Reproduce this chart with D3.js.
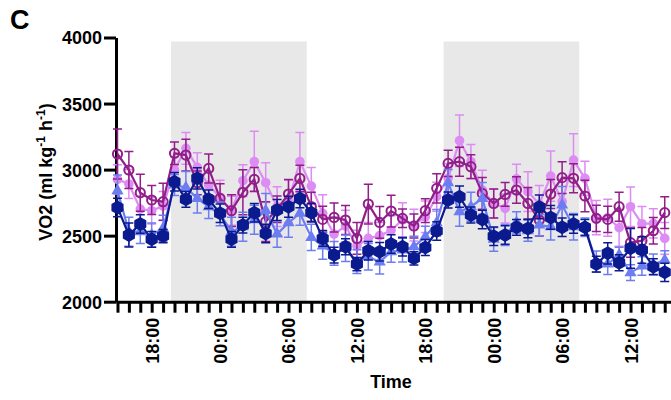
<!DOCTYPE html>
<html>
<head>
<meta charset="utf-8">
<script src="https://cdn.jsdelivr.net/npm/d3@7"></script>
<style>
  html, body { margin: 0; padding: 0; background: #fff; }
  svg { display: block; font-family: Arial, "Liberation Sans", Helvetica, sans-serif; }
</style>
</head>
<body>
<svg id="chart" width="671" height="400"></svg>
<script>
// Hourly samples, hour 0 = 15:00 on day 1
const hours = d3.range(0, 49);

// VO2 means (ml kg-1 h-1) per group
const groupA = [3118, 2997, 2825, 2770, 2757, 3123, 3110, 2900, 3009, 2782, 2689, 2828, 2926, 2606, 2700, 2815, 2933, 2719, 2623, 2638, 2618, 2479, 2739, 2600, 2686, 2631, 2573, 2689, 2858, 3047, 3060, 3022, 2820, 2744, 2812, 2845, 2744, 2618, 2815, 2939, 2934, 2800, 2631, 2623, 2719, 2447, 2462, 2537, 2674];
const groupB = [2926, 2891, 2701, 2689, 2724, 2997, 3161, 3017, 2883, 2790, 2689, 2916, 3060, 2901, 2720, 2760, 3060, 2875, 2669, 2512, 2573, 2421, 2480, 2500, 2540, 2620, 2580, 2643, 2795, 2934, 3219, 3060, 2845, 2744, 2706, 2930, 2833, 2739, 2951, 2757, 3072, 2934, 2636, 2636, 2560, 2719, 2590, 2593, 2479];
const groupC = [2714, 2505, 2588, 2472, 2497, 2908, 2775, 2934, 2775, 2669, 2472, 2580, 2674, 2517, 2694, 2719, 2782, 2674, 2479, 2353, 2416, 2285, 2386, 2379, 2437, 2416, 2328, 2410, 2536, 2770, 2795, 2656, 2623, 2495, 2505, 2563, 2555, 2717, 2638, 2563, 2588, 2563, 2285, 2366, 2295, 2404, 2391, 2265, 2222];
const groupD = [2840, 2530, 2530, 2505, 2555, 2883, 2865, 2782, 2719, 2664, 2530, 2568, 2620, 2690, 2512, 2598, 2669, 2487, 2421, 2366, 2404, 2303, 2340, 2300, 2378, 2391, 2416, 2492, 2598, 2901, 2681, 2719, 2782, 2472, 2505, 2600, 2537, 2580, 2568, 2732, 2568, 2563, 2303, 2285, 2353, 2220, 2270, 2282, 2315];

// SEM per group
const errA = [190, 140, 140, 110, 140, 85, 120, 90, 110, 110, 120, 170, 90, 150, 100, 110, 100, 110, 100, 110, 110, 120, 150, 120, 120, 70, 90, 90, 110, 100, 110, 90, 120, 110, 90, 100, 120, 120, 110, 120, 110, 120, 100, 100, 110, 110, 100, 100, 120];
const errB = [110, 110, 100, 100, 110, 100, 120, 110, 100, 130, 110, 120, 230, 150, 150, 160, 220, 140, 140, 130, 120, 120, 120, 100, 110, 130, 120, 120, 110, 110, 195, 130, 150, 110, 110, 110, 150, 140, 190, 170, 200, 130, 130, 140, 140, 150, 130, 110, 120];
const errC = [70, 90, 70, 60, 50, 70, 60, 80, 70, 70, 60, 60, 70, 70, 80, 80, 70, 70, 60, 60, 60, 50, 70, 70, 70, 70, 50, 60, 70, 60, 80, 60, 70, 70, 70, 60, 70, 90, 90, 70, 70, 60, 60, 80, 60, 150, 100, 60, 70];
const errD = [120, 110, 90, 90, 100, 80, 120, 110, 90, 90, 110, 110, 110, 130, 100, 110, 90, 100, 100, 90, 100, 90, 100, 90, 80, 90, 80, 80, 100, 100, 110, 110, 120, 90, 80, 80, 80, 80, 100, 140, 100, 70, 80, 80, 60, 60, 70, 80, 70];

// Dark phases (hours from start)
const darkPhases = [[4.7, 16.6], [28.6, 40.5]];

// Labelled clock times on the x axis
const tickHours = [3, 9, 15, 21, 27, 33, 39, 45];
const tickLabels = ["18:00", "00:00", "06:00", "12:00", "18:00", "00:00", "06:00", "12:00"];
const yTicks = [2000, 2500, 3000, 3500, 4000];

const svg = d3.select("#chart");
const x = d3.scaleLinear().domain([-0.13, 48.55]).range([116, 671]);
const y = d3.scaleLinear().domain([2000, 4000]).range([301.7, 37.5]);

// Dark-phase shading
svg.append("g").selectAll("rect").data(darkPhases).join("rect")
  .attr("x", d => x(d[0]))
  .attr("width", d => x(d[1]) - x(d[0]))
  .attr("y", y(3970))
  .attr("height", y(2000) - y(3970))
  .attr("fill", "#e8e8e8");

// Axes
const yAxis = svg.append("g").attr("transform", `translate(${x.range()[0]},0)`)
  .call(d3.axisLeft(y).tickValues(yTicks).tickSize(12).tickSizeOuter(0).tickPadding(2).tickFormat(d3.format("d")));
yAxis.select(".domain").attr("stroke", "#000").attr("stroke-width", 3);
yAxis.selectAll(".tick line").attr("stroke", "#000").attr("stroke-width", 3);
yAxis.selectAll(".tick text").attr("font-size", 18).attr("font-weight", "bold").attr("fill", "#000").attr("dy", "0.36em");

const labelOf = new Map(tickHours.map((h, i) => [h, tickLabels[i]]));
const xAxis = svg.append("g").attr("transform", `translate(0,${y(2000)})`)
  .call(d3.axisBottom(x).tickValues(hours).tickSize(11).tickSizeOuter(0).tickFormat(h => labelOf.get(h) || ""));
xAxis.select(".domain").attr("stroke", "#000").attr("stroke-width", 3);
xAxis.selectAll(".tick line").attr("stroke", "#000").attr("stroke-width", 3);
xAxis.selectAll(".tick text")
  .attr("transform", "rotate(-90)")
  .attr("x", -16).attr("y", 0).attr("dy", "0.36em")
  .attr("text-anchor", "end")
  .attr("font-size", 18).attr("font-weight", "bold").attr("fill", "#000");

// Axis titles
svg.append("text").attr("x", 391).attr("y", 388).attr("text-anchor", "middle")
  .attr("font-size", 18).attr("font-weight", "bold").text("Time");

const yTitle = svg.append("text")
  .attr("transform", "translate(52,172) rotate(-90)")
  .attr("text-anchor", "middle").attr("font-size", 18).attr("font-weight", "bold");
yTitle.append("tspan").text("VO2 (ml kg");
yTitle.append("tspan").attr("font-size", 12).attr("dy", -7).text("-1");
yTitle.append("tspan").attr("dy", 7).text(" h");
yTitle.append("tspan").attr("font-size", 12).attr("dy", -7).text("-1");
yTitle.append("tspan").attr("dy", 7).text(")");

svg.append("text").attr("x", 10).attr("y", 29).attr("font-size", 27).attr("font-weight", "bold").text("C");

// Marker shapes
const hexagon = r => {
  const pts = d3.range(6).map(i => {
    const a = Math.PI / 6 + i * Math.PI / 3;
    return [r * Math.cos(a), r * Math.sin(a)];
  });
  return "M" + pts.map(p => p.join(",")).join("L") + "Z";
};
const triangle = d3.symbol(d3.symbolTriangle, 64)();

const series = [
  { values: groupB, errors: errB, color: "#dc8cf3", marker: "circle" },
  { values: groupA, errors: errA, color: "#911e89", marker: "open" },
  { values: groupD, errors: errD, color: "#6b7df0", marker: "triangle" },
  { values: groupC, errors: errC, color: "#0b1a8e", marker: "hexagon" }
];

const line = d3.line().x((d, i) => x(hours[i])).y(d => y(d));

series.forEach(s => {
  const g = svg.append("g");
  const pts = s.values.map((v, i) => ({ h: hours[i], v, e: s.errors[i] }));
  // error bars
  const eb = g.append("g").attr("stroke", s.color).attr("stroke-width", 1.5).attr("fill", "none");
  eb.selectAll("path").data(pts).join("path")
    .attr("d", d => {
      const cx = x(d.h), y1 = y(d.v + d.e), y2 = y(d.v - d.e);
      return `M${cx},${y1}V${y2}M${cx - 4.5},${y1}H${cx + 4.5}M${cx - 4.5},${y2}H${cx + 4.5}`;
    });
  g.append("path").datum(s.values).attr("d", line)
    .attr("fill", "none").attr("stroke", s.color).attr("stroke-width", 2.2);
  const m = g.selectAll(".m").data(pts).join("g")
    .attr("transform", d => `translate(${x(d.h)},${y(d.v)})`);
  if (s.marker === "circle") {
    m.append("circle").attr("r", 4.8).attr("fill", s.color);
  } else if (s.marker === "open") {
    m.append("circle").attr("r", 4.6).attr("fill", "none").attr("stroke", s.color).attr("stroke-width", 2);
  } else if (s.marker === "triangle") {
    m.append("path").attr("d", triangle).attr("fill", s.color);
  } else {
    m.append("path").attr("d", hexagon(7)).attr("fill", s.color);
  }
});
</script>
</body>
</html>
